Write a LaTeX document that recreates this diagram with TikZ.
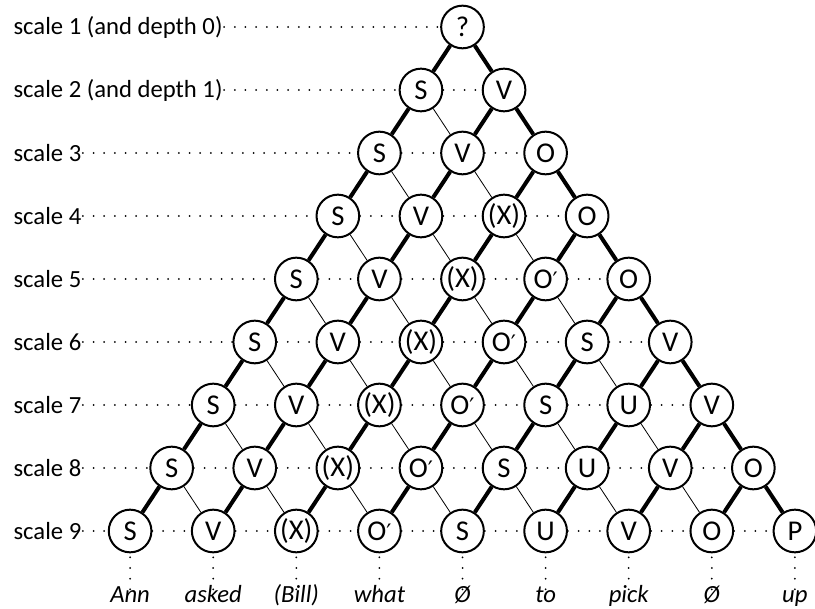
\documentclass[tikz,border=0pt]{standalone}
\usepackage{fontspec}
\setmainfont{Carlito}
\newfontfamily\symfont{DejaVu Sans}
\usepackage{tikz}
\newcommand{\diagfont}{\fontsize{18.5}{21}\selectfont}
\newcommand{\unitfont}{\fontsize{21.5}{24}\selectfont}
\newcommand{\prm}{{\symfont\fontsize{17}{19}\selectfont ′}}
\tikzstyle{unit} = [draw, circle, line width=1.5pt, minimum size=32pt, inner sep=0pt, fill=white, font=\unitfont]
\tikzstyle{scalelabel} = [anchor=west, inner sep=1pt]
\tikzstyle{word} = [font=\diagfont\itshape, text height=1.6ex, text depth=0.5ex, inner sep=1pt]
\tikzstyle{dots} = [line width=1.5pt, line cap=round, dash pattern=on 0pt off 8pt]
\tikzstyle{strong} = [line width=3pt]
\tikzstyle{weak} = [line width=0.6pt]

\begin{document}
\begin{tikzpicture}[x=0.75pt, y=-0.75pt, font=\diagfont]
		\useasboundingbox (0,0) rectangle (815,609);
		% units, one row per scale
		\foreach \k/\labs in {1/{?}, 2/{S,V}, 3/{S,V,O}, 4/{S,V,(X),O}, 5/{S,V,(X),O\prm,O},
			6/{S,V,(X),O\prm,S,V}, 7/{S,V,(X),O\prm,S,U,V}, 8/{S,V,(X),O\prm,S,U,V,O},
			9/{S,V,(X),O\prm,S,U,V,O,P}} {
			\foreach \lab [count=\j from 0] in \labs {
				\node [unit] (n-\k-\j) at ({462.5+83.1*(\j-(\k-1)/2)}, {27+63*(\k-1)}) {\lab};
			}
		}
		% scale labels
		\node [scalelabel] (s-1) at (12,27) {scale 1 (and depth 0)};
		\node [scalelabel] (s-2) at (12,90) {scale 2 (and depth 1)};
		\foreach \k in {3,...,9}
			\node [scalelabel] (s-\k) at (12,{27+63*(\k-1)}) {scale \k};
		% dotted rows
		\foreach \k in {1,...,9} {
			\draw [dots] (s-\k) -- (n-\k-0);
			\pgfmathtruncatemacro{\last}{\k-2}
			\ifnum\k>1
				\foreach \j in {0,...,\last} {
					\pgfmathtruncatemacro{\nxt}{\j+1}
					\draw [dots] (n-\k-\j) -- (n-\k-\nxt);
				}
			\fi
		}
		% connections between scales
		\foreach \k in {1,...,8} {
			\pgfmathtruncatemacro{\down}{\k+1}
			\pgfmathtruncatemacro{\last}{\k-1}
			\foreach \j in {0,...,\last} {
				\pgfmathtruncatemacro{\nxt}{\j+1}
				\draw [strong] (n-\k-\j) -- (n-\down-\j);
				\ifnum\j=\last
					\draw [strong] (n-\k-\j) -- (n-\down-\nxt);
				\else
					\draw [weak] (n-\k-\j) -- (n-\down-\nxt);
				\fi
			}
		}
		% words
		\foreach \w [count=\j from 0] in {Ann, asked, (Bill), what, Ø, to, pick, Ø, up} {
			\node [word, anchor=base] (w-\j) at ({462.5+83.1*(\j-4)}, 603) {\w};
			\draw [dots, shorten <=3pt] (n-9-\j) -- (w-\j);
		}
	\end{tikzpicture}
\end{document}
